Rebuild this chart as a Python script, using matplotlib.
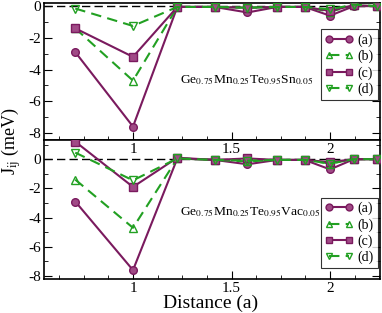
import matplotlib
matplotlib.use("Agg")
import matplotlib.pyplot as plt
from matplotlib.ticker import MultipleLocator, FormatStrFormatter

plt.rcParams['font.family'] = ['Liberation Serif', 'DejaVu Serif']
plt.rcParams['mathtext.fontset'] = 'stix'

dist = [0.707, 1.0, 1.225, 1.414, 1.581, 1.732, 1.871, 2.0, 2.121, 2.236]

# Upper panel: Ge0.75Mn0.25Te0.95Sn0.05
sn_a = [-2.9, -7.6, -0.05, -0.05, -0.4, -0.05, -0.05, -0.6, 0.0, 0.0]
sn_b = [-1.4, -4.7, -0.05, -0.05, -0.1, -0.05, -0.05, -0.35, 0.05, 0.0]
sn_c = [-1.4, -3.2, -0.05, -0.05, -0.1, -0.05, -0.05, -0.3, 0.05, 0.0]
sn_d = [-0.15, -1.25, -0.05, -0.05, -0.1, -0.05, -0.05, -0.2, 0.1, 0.0]

# Lower panel: Ge0.75Mn0.25Te0.95Vac0.05
vac_a = [-2.9, -7.6, 0.05, -0.05, -0.35, -0.05, -0.05, -0.7, 0.0, 0.0]
vac_b = [-1.4, -4.7, 0.05, -0.05, -0.15, -0.05, -0.05, -0.3, 0.0, 0.0]
vac_c = [1.2, -1.9, 0.1, -0.05, 0.05, -0.05, -0.05, -0.2, 0.0, 0.0]
vac_d = [0.45, -1.45, 0.05, -0.05, -0.1, -0.05, -0.05, -0.3, 0.0, 0.0]

labels = ['(a)', '(b)', '(c)', '(d)']
purple = '#7a1a5e'
pfill = '#a04a86'
green = '#22a022'

styles = [
    dict(color=purple, ls='-', marker='o', mfc=pfill, mec=purple),
    dict(color=green, ls=(0, (5, 3)), marker='^', mfc='none', mec=green),
    dict(color=purple, ls='-', marker='s', mfc=pfill, mec=purple),
    dict(color=green, ls=(0, (5, 3)), marker='v', mfc='none', mec=green),
]

fig = plt.figure(figsize=(3.82, 3.13), dpi=100)
ax1 = fig.add_axes([0.115, 0.553, 0.88, 0.437])
ax2 = fig.add_axes([0.115, 0.109, 0.88, 0.444])

def setup(ax, ylim):
    ax.set_xlim(0.548, 2.254)
    ax.set_ylim(*ylim)
    ax.axhline(0, color='black', ls=(0, (6, 3)), lw=1, zorder=1)
    ax.xaxis.set_major_locator(MultipleLocator(0.5))
    ax.xaxis.set_minor_locator(MultipleLocator(0.125))
    ax.xaxis.set_major_formatter(FormatStrFormatter('%g'))
    ax.yaxis.set_major_locator(MultipleLocator(2))
    ax.yaxis.set_minor_locator(MultipleLocator(1))
    ax.yaxis.set_major_formatter(FormatStrFormatter('%g'))
    ax.tick_params(which='both', direction='in', right=True, labelsize=11)
    ax.tick_params(which='major', length=6)
    ax.tick_params(which='minor', length=3)
    ax.tick_params(axis='x', pad=2)
    ax.tick_params(axis='y', pad=2)
    for s in ax.spines.values():
        s.set_linewidth(1.2)

for ax, series, ylim, ly in [(ax1, [sn_a, sn_b, sn_c, sn_d], (-8.44, 0.19), 0.55),
                             (ax2, [vac_a, vac_b, vac_c, vac_d], (-8.2, 1.32), 0.33)]:
    setup(ax, ylim)
    for ys, st, lab in zip(series, styles, labels):
        ax.plot(dist, ys, color=st['color'], ls=st['ls'], lw=1.5,
                marker=st['marker'], markersize=5.5, mfc=st['mfc'],
                mec=st['mec'], mew=1, label=lab, zorder=3)
    leg = ax.legend(loc='center right', bbox_to_anchor=(0.997, ly),
                    frameon=True, fancybox=False, edgecolor='black', fontsize=10,
                    numpoints=2, handlelength=2.0, handletextpad=0.3, borderpad=0.3,
                    labelspacing=0.2, borderaxespad=0.1, markerscale=0.9)
    leg.get_frame().set_linewidth(0.8)

ax1.set_xticklabels([])
for xv, s in [(1.0, '1'), (1.5, '1.5'), (2.0, '2')]:
    xf = fig.transFigure.inverted().transform(ax1.transData.transform((xv, 0)))[0]
    fig.text(xf, 1 - 149 / 313, s, ha='center', va='center', fontsize=11)

ax1.text(1.24, -4.66, r'Ge$_{0.75}$Mn$_{0.25}$Te$_{0.95}$Sn$_{0.05}$', fontsize=9.7,
         ha='left', va='center')
ax2.text(1.24, -3.68, r'Ge$_{0.75}$Mn$_{0.25}$Te$_{0.95}$Vac$_{0.05}$', fontsize=9.7,
         ha='left', va='center')

fig.text(0.55, 1 - 303 / 313, 'Distance (a)', fontsize=14, ha='center', va='center')
fig.text(0.03, 0.55, r'J$_{\rm ij}$ (meV)', rotation=90, fontsize=13,
         ha='center', va='center')

fig.savefig('out.png', dpi=100)
